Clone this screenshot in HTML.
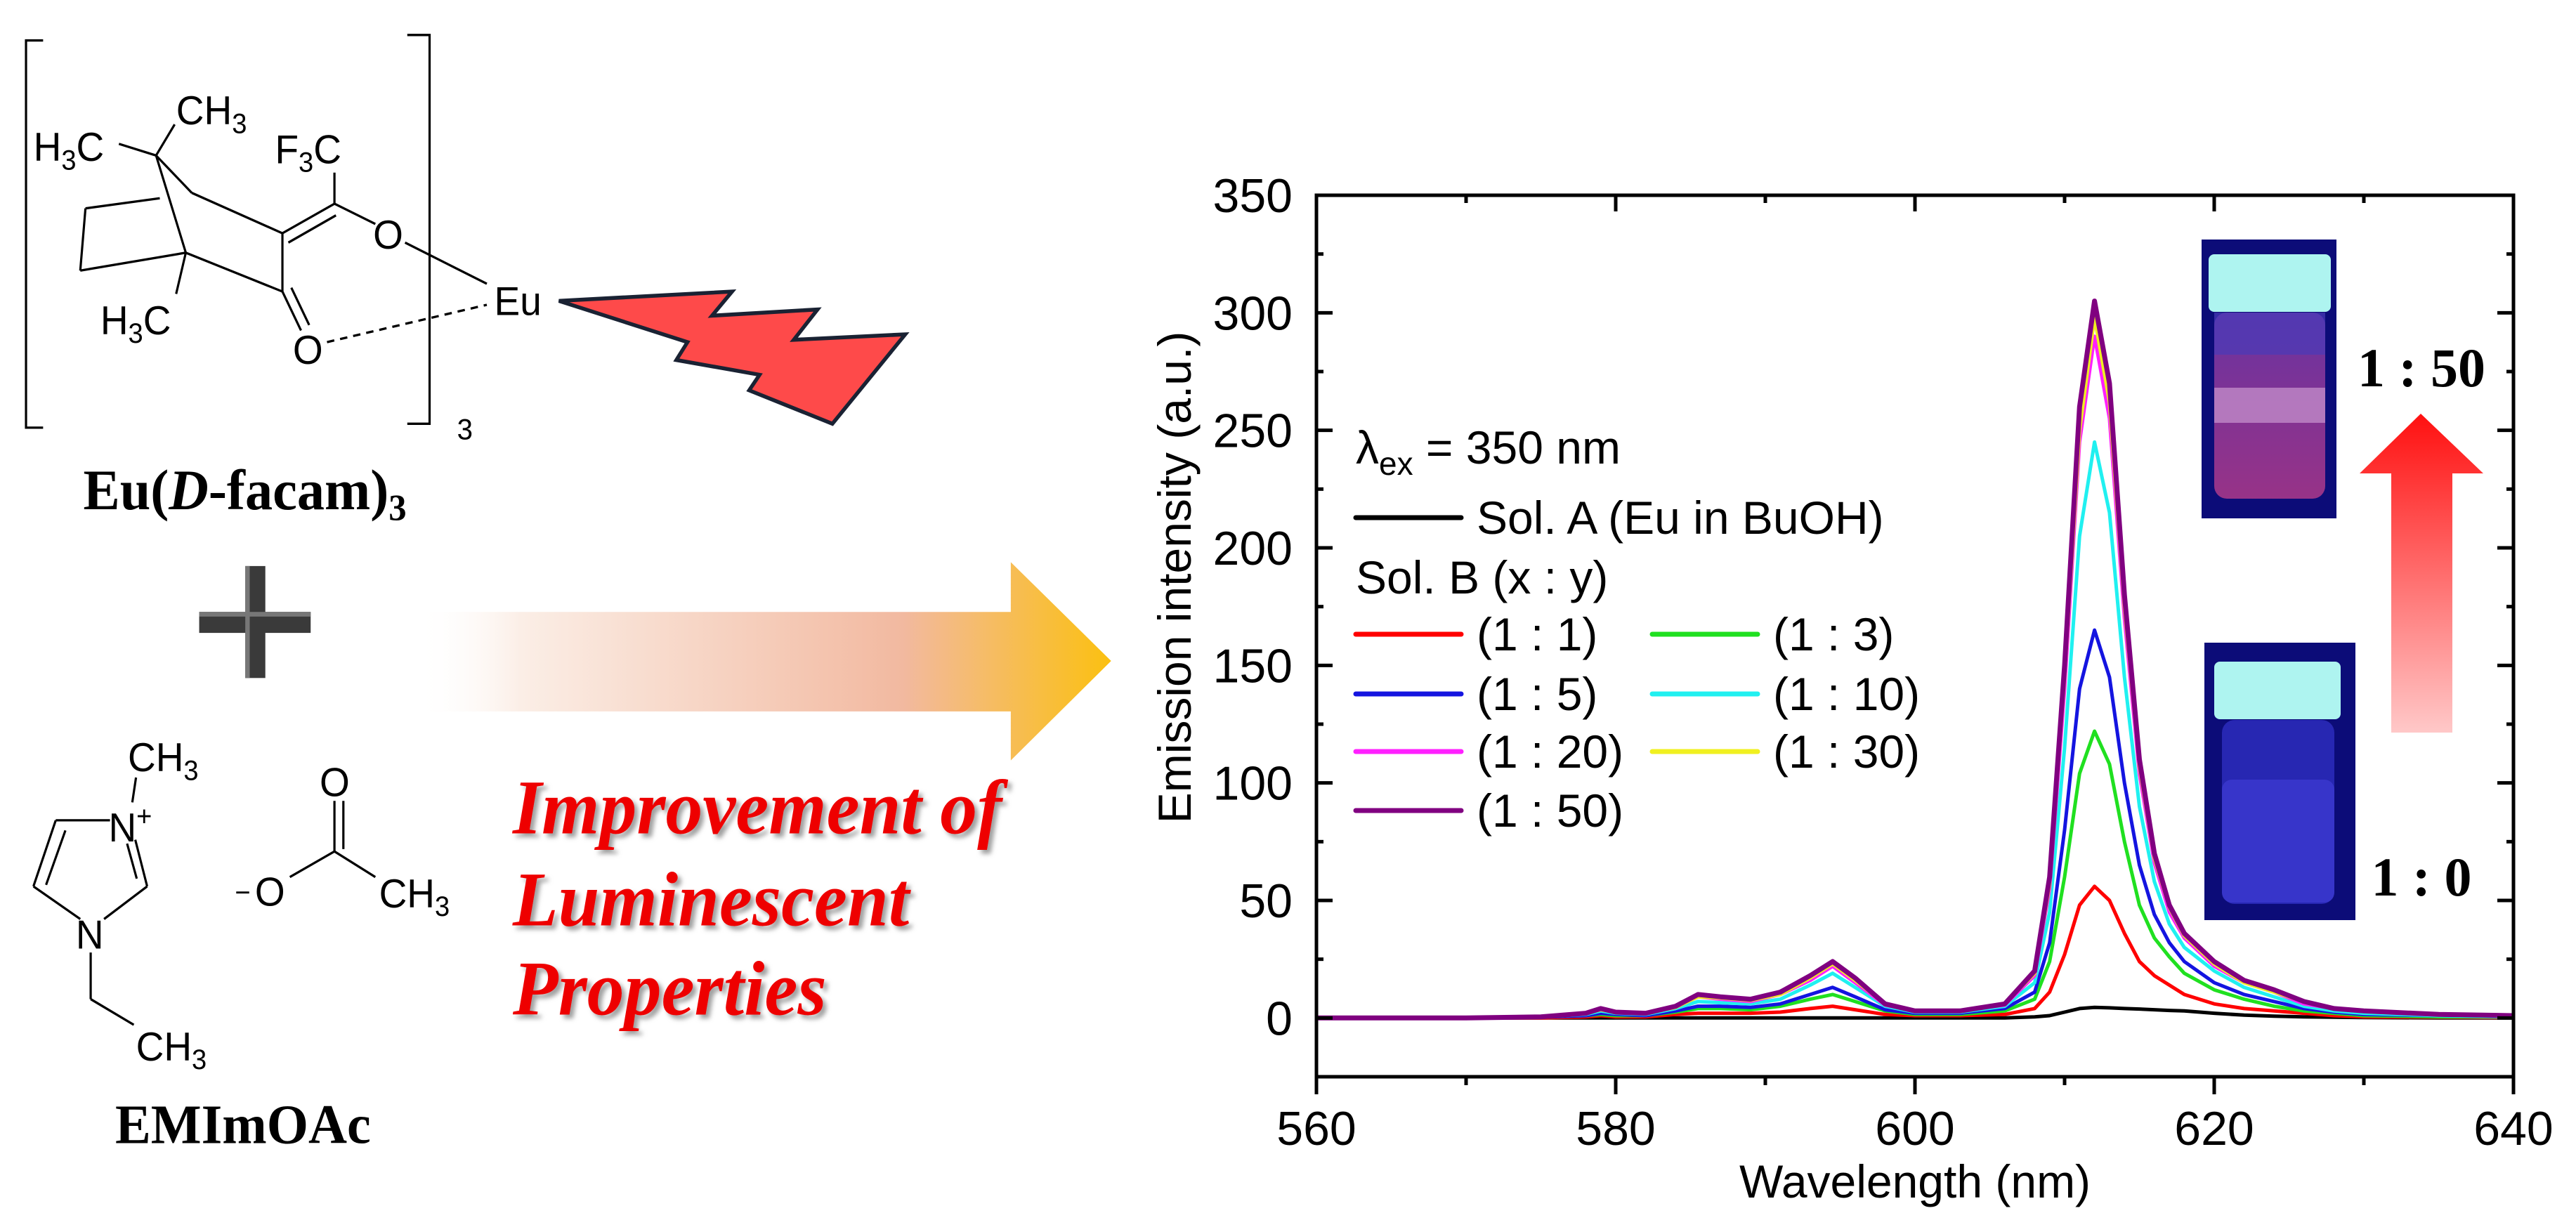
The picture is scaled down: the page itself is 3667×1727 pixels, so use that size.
<!DOCTYPE html>
<html><head><meta charset="utf-8">
<style>
html,body{margin:0;padding:0;background:#fff;}
svg{display:block;}
text{font-family:"Liberation Sans",sans-serif;}
text.serif{font-family:"Liberation Serif",serif;}
</style></head>
<body>
<svg id="root" width="3667" height="1727" viewBox="0 0 3667 1727" xmlns="http://www.w3.org/2000/svg">
<defs>
<linearGradient id="bigArrow" x1="0" y1="0" x2="1" y2="0">
<stop offset="0" stop-color="#ffffff" stop-opacity="0"/>
<stop offset="0.15" stop-color="#fbeee6"/>
<stop offset="0.7" stop-color="#f2b9a0"/>
<stop offset="1" stop-color="#fbc011"/>
</linearGradient>
<linearGradient id="upArrow" x1="0" y1="0" x2="0" y2="1">
<stop offset="0" stop-color="#ff1010"/>
<stop offset="1" stop-color="#ffc8c8"/>
</linearGradient>
<filter id="shadow" x="-5%" y="-5%" width="110%" height="120%">
<feDropShadow dx="5" dy="5" stdDeviation="3" flood-color="#777" flood-opacity="0.7"/>
</filter>
<linearGradient id="liq1" x1="0" y1="0" x2="0" y2="1">
<stop offset="0" stop-color="#7a3aa8"/><stop offset="1" stop-color="#b03a8a"/>
</linearGradient>
</defs>

<g transform="scale(1.058,1.107)">
  <g stroke="#000" stroke-width="3" fill="none">
    <polyline points="58,52 35,52 35,550 58,550"/>
    <polyline points="548,45 578,45 578,545 548,545"/>
    <line x1="160" y1="185" x2="210" y2="200"/>
    <line x1="210" y1="200" x2="235" y2="160"/>
    <line x1="210" y1="200" x2="258" y2="248"/>
    <line x1="210" y1="200" x2="250" y2="325"/>
    <line x1="115" y1="268" x2="215" y2="255"/>
    <line x1="115" y1="268" x2="108" y2="348"/>
    <line x1="108" y1="348" x2="250" y2="325"/>
    <line x1="258" y1="248" x2="380" y2="300"/>
    <line x1="250" y1="325" x2="380" y2="375"/>
    <line x1="380" y1="300" x2="380" y2="375"/>
    <line x1="380" y1="300" x2="450" y2="262"/>
    <line x1="388" y1="312" x2="452" y2="277"/>
    <line x1="450" y1="262" x2="450" y2="222"/>
    <line x1="450" y1="262" x2="505" y2="288"/>
    <line x1="545" y1="312" x2="655" y2="365"/>
    <line x1="380" y1="375" x2="405" y2="425"/>
    <line x1="392" y1="370" x2="416" y2="418"/>
    <line x1="250" y1="325" x2="237" y2="378"/>
    <line x1="440" y1="440" x2="655" y2="392" stroke-dasharray="10,8"/>
  </g>
  <g font-size="52" fill="#000">
    <text x="45" y="207">H<tspan font-size="36" dy="11">3</tspan><tspan dy="-11">C</tspan></text>
    <text x="237" y="160">CH<tspan font-size="36" dy="11">3</tspan></text>
    <text x="370" y="210">F<tspan font-size="36" dy="11">3</tspan><tspan dy="-11">C</tspan></text>
    <text x="502" y="320">O</text>
    <text x="665" y="405">Eu</text>
    <text x="135" y="430">H<tspan font-size="36" dy="11">3</tspan><tspan dy="-11">C</tspan></text>
    <text x="394" y="468">O</text>
    <text x="615" y="565" font-size="38">3</text>
  </g>
  <polygon points="752,387 985,375 958,406 1100,398 1068,437 1218,430 1120,545 1008,502 1022,482 910,463 925,440" fill="#fe4a4a" stroke="#1a2233" stroke-width="5" stroke-linejoin="miter"/>
  <text class="serif" x="112" y="655" font-size="74" font-weight="bold">Eu(<tspan font-style="italic">D</tspan>-facam)<tspan font-size="48" dy="14">3</tspan></text>

  <g>
    <rect x="268" y="787" width="150" height="27" fill="#3a3a3a"/>
    <rect x="330" y="728" width="27" height="144" fill="#3a3a3a"/>
    <rect x="268" y="787" width="150" height="6" fill="#777"/>
    <rect x="330" y="728" width="6" height="144" fill="#777"/>
  </g>

  <polygon points="560,787 1360,787 1360,723 1495,850 1360,978 1360,915 560,915" fill="url(#bigArrow)"/>

  <g stroke="#000" stroke-width="3" fill="none">
    <line x1="75" y1="1055" x2="148" y2="1055"/>
    <line x1="75" y1="1055" x2="45" y2="1140"/>
    <line x1="88" y1="1068" x2="62" y2="1138"/>
    <line x1="45" y1="1140" x2="108" y2="1182"/>
    <line x1="140" y1="1182" x2="198" y2="1140"/>
    <line x1="198" y1="1140" x2="182" y2="1080"/>
    <line x1="184" y1="1130" x2="171" y2="1085"/>
    <line x1="178" y1="1032" x2="183" y2="1000"/>
    <line x1="122" y1="1225" x2="122" y2="1285"/>
    <line x1="122" y1="1285" x2="180" y2="1318"/>
    <line x1="450" y1="1095" x2="450" y2="1030"/>
    <line x1="462" y1="1092" x2="462" y2="1030"/>
    <line x1="450" y1="1095" x2="390" y2="1128"/>
    <line x1="450" y1="1095" x2="505" y2="1128"/>
  </g>
  <g font-size="52" fill="#000">
    <text x="172" y="992">CH<tspan font-size="36" dy="11">3</tspan></text>
    <text x="146" y="1082">N<tspan font-size="36" dy="-20">+</tspan></text>
    <text x="102" y="1220">N</text>
    <text x="183" y="1364">CH<tspan font-size="36" dy="11">3</tspan></text>
    <text x="430" y="1024">O</text>
    <text x="316" y="1160" font-size="36">−</text>
    <text x="343" y="1165">O</text>
    <text x="510" y="1167">CH<tspan font-size="36" dy="11">3</tspan></text>
  </g>
  <text class="serif" x="155" y="1470" font-size="72" font-weight="bold">EMImOAc</text>
  <g font-size="100" font-weight="bold" font-style="italic" fill="#ee0000" filter="url(#shadow)">
    <text class="serif" x="690" y="1072">Improvement of</text>
    <text class="serif" x="690" y="1190">Luminescent</text>
    <text class="serif" x="690" y="1305">Properties</text>
  </g>
</g>

<g id="chart"></g>

<g>
  <rect x="3134" y="341" width="192" height="397" fill="#0c0c78"/>
  <rect x="3152" y="445" width="158" height="265" rx="18" fill="url(#liq1)" opacity="0.85"/>
  <rect x="3152" y="445" width="158" height="60" fill="#4a3ab8" opacity="0.7"/>
  <rect x="3152" y="552" width="158" height="50" fill="#c08ac8" opacity="0.8"/>
  <rect x="3144" y="362" width="174" height="82" rx="8" fill="#aef4f0"/>
</g>
<g>
  <rect x="3138" y="915" width="215" height="395" fill="#0c0c78"/>
  <rect x="3163" y="1025" width="160" height="262" rx="18" fill="#2a2ab8" opacity="0.9"/>
  <rect x="3163" y="1110" width="160" height="175" rx="14" fill="#3c3ad0" opacity="0.8"/>
  <rect x="3152" y="942" width="180" height="82" rx="8" fill="#aef4f0"/>
</g>
<text class="serif" x="3447" y="550" font-size="78" font-weight="bold" text-anchor="middle">1 : 50</text>
<text class="serif" x="3447" y="1275" font-size="78" font-weight="bold" text-anchor="middle">1 : 0</text>
<polygon points="3446,589 3535,674 3491,674 3491,1043 3404,1043 3404,674 3359,674" fill="url(#upArrow)"/>
</svg>

<script>
const wavelengths = [560,570,575,578,579,580,582,584,585.5,587,589,591,593,594.5,596,598,600,603,606,608,609,610,611,612,613,614,615,616,617,618,620,622,624,626,628,630,635,640];
const solA  = [0,0,0,0,0,0,0,0,0,0,0,0,0,0,0,0,0,0,0,0.5,1,2.5,4,4.5,4.3,4,3.8,3.5,3.2,3,2,1.2,0.8,0.5,0.3,0.2,0,0];
const r1_1  = [0,0,0,0.5,1,0.5,0.5,1.5,2,2,2,2.5,4,5,3.5,1.5,1,1,1.5,4,11,27,48,56,50,36,24,18,14,10,6,4,3,2,1,0.5,0.3,0.2];
const r1_3  = [0,0,0.3,1,1.5,1,1,2.5,4,4,3.5,5,8,10,7,3,1.5,1.5,3,8,24,60,104,122,108,75,48,34,26,19,12,8,5,3,2,1,0.5,0.5];
const r1_5  = [0,0,0.3,1,2,1.5,1,3,5,5,4.5,6,10,13,9,3.5,2,2,4,11,32,80,140,165,145,100,65,44,32,24,15,10,7,4,2.5,1.5,1,0.5];
const r1_10 = [0,0,0.4,1.5,3,2,1.5,4,7,6.5,6,8,14,19,13,5,2.5,2.5,5,15,45,115,205,245,215,145,90,58,40,30,20,13,9,5,3,2,1,0.5];
const r1_20 = [0,0,0.5,2,3.5,2.5,2,4.5,9,8,7,10,16,22,15,5.5,3,3,5.5,18,55,140,245,290,255,170,104,66,45,34,22,15,11,6,4,3,1.5,1];
const r1_30 = [0,0,0.5,2,3.5,2.5,2,4.5,9,8.5,7.5,10,17,23,16,6,3,3,6,19,57,145,250,298,262,175,107,68,47,35,23,15,11,7,4,3,1.5,1];
const r1_50 = [0,0,0.5,2,4,2.5,2,5,10,9,8,11,18,24,17,6,3,3,6,20,60,150,260,305,270,180,110,70,48,36,24,16,12,7,4,3,1.5,1];
const seriesNames = ["Sol. A (Eu in BuOH)","(1 : 1)","(1 : 3)","(1 : 5)","(1 : 10)","(1 : 20)","(1 : 30)","(1 : 50)"];
const xTicks = [560,580,600,620,640];
const yTicks = [0,50,100,150,200,250,300,350];

const NS = "http://www.w3.org/2000/svg";
const chart = document.getElementById('chart');
const L = 1874, R = 3578, T = 278, B = 1533;
const xMin = 560, xMax = 640, yMin = -25, yMax = 350;
function xs(v){ return L + (v - xMin) / (xMax - xMin) * (R - L); }
function ys(v){ return B - (v - yMin) / (yMax - yMin) * (B - T); }
function mk(tag, attrs, parent){
  const e = document.createElementNS(NS, tag);
  for (const k in attrs) e.setAttribute(k, attrs[k]);
  (parent || chart).appendChild(e);
  return e;
}

const allSeries = [solA, r1_1, r1_3, r1_5, r1_10, r1_20, r1_30, r1_50];
const colors = ["#000000","#ff0000","#20e020","#1414e0","#20f0f0","#ff20ff","#f0f020","#800080"];
const widths = [5,5,5,5,5,5,5,7];
const slugs = ["sol-a","ratio-1-1","ratio-1-3","ratio-1-5","ratio-1-10","ratio-1-20","ratio-1-30","ratio-1-50"];
const clip = mk('clipPath', {id:'plotclip'});
mk('rect', {x:L, y:T, width:R-L, height:B-T}, clip);
allSeries.forEach((s, i) => {
  const pts = wavelengths.map((w, j) => xs(w).toFixed(1) + ',' + ys(s[j]).toFixed(1)).join(' ');
  const pl = mk('polyline', {points: pts, fill:'none', stroke: colors[i], 'stroke-width': widths[i], 'stroke-linejoin':'round', 'clip-path':'url(#plotclip)'});
  
  
});

const frame = mk('rect', {x:L, y:T, width:R-L, height:B-T, fill:'none', stroke:'#000', 'stroke-width':5});



for (let v = 560; v <= 640; v += 10) {
  const major = xTicks.includes(v);
  const t1 = mk('line', {x1:xs(v), x2:xs(v), y1:B, y2:B + (major ? 25 : 12), stroke:'#000', 'stroke-width':5});
  
  
  const t2 = mk('line', {x1:xs(v), x2:xs(v), y1:T, y2:T + (major ? 23 : 11), stroke:'#000', 'stroke-width':5});
  
  
}
xTicks.forEach(v => {
  const t = mk('text', {x:xs(v), y:1630, 'font-size':68, 'text-anchor':'middle'});
  t.textContent = v;
  
  
});
for (let v = -25; v <= 350; v += 25) {
  const major = yTicks.includes(v);
  const t1 = mk('line', {x1:L, x2:L + (major ? 23 : 10), y1:ys(v), y2:ys(v), stroke:'#000', 'stroke-width':5});
  
  
  const t2 = mk('line', {x1:R, x2:R - (major ? 23 : 10), y1:ys(v), y2:ys(v), stroke:'#000', 'stroke-width':5});
  
  
}
yTicks.forEach(v => {
  const t = mk('text', {x:1840, y:ys(v) + 24, 'font-size':68, 'text-anchor':'end'});
  t.textContent = v;
  
  
});
const xt = mk('text', {x:(L + R) / 2, y:1705, 'font-size':66, 'text-anchor':'middle'});
xt.textContent = 'Wavelength (nm)';


const yt = mk('text', {x:0, y:0, 'font-size':66, 'text-anchor':'middle', transform:'translate(1695,822) rotate(-90)'});
yt.textContent = 'Emission intensity (a.u.)';



const lg = mk('g', {});


const lam = mk('text', {x:1930, y:660, 'font-size':66}, lg);
lam.innerHTML = 'λ<tspan font-size="46" dy="16">ex</tspan><tspan dy="-16"> = 350 nm</tspan>';


const solB = mk('text', {x:1930, y:845, 'font-size':66}, lg);
solB.textContent = 'Sol. B (x : y)';


const legPos = [[1930,737],[1930,903],[2352,903],[1930,988],[2352,988],[1930,1070],[2352,1070],[1930,1154]];
legPos.forEach((p, i) => {
  const ln = mk('line', {x1:p[0], x2:p[0] + 150, y1:p[1], y2:p[1], stroke: colors[i], 'stroke-width':7, 'stroke-linecap':'round'}, lg);
  
  
  const tx = mk('text', {x:p[0] + 172, y:p[1] + 23, 'font-size':66}, lg);
  tx.textContent = seriesNames[i];
  
  
});
</script>
</body></html>
